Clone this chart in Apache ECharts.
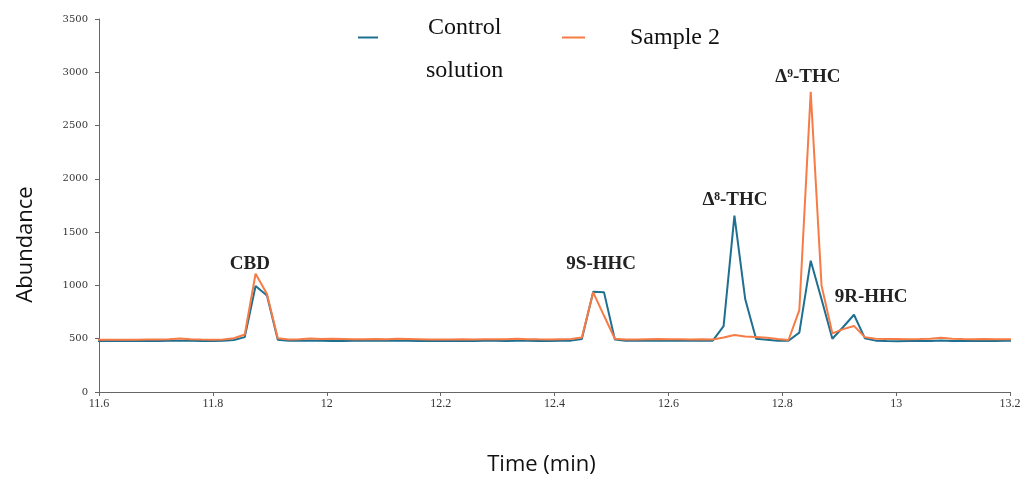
<!DOCTYPE html>
<html>
<head>
<meta charset="utf-8">
<script src="https://cdn.jsdelivr.net/npm/echarts@6/dist/echarts.min.js"></script>
<style>
  html, body { margin: 0; padding: 0; background: #fff; }
  #chart { width: 1020px; height: 477px; }
</style>
</head>
<body>
<div id="chart"></div>
<script>
// Retention times of the scans (min)
const times = [
  11.589, 11.608, 11.627, 11.646, 11.665, 11.684, 11.704, 11.723, 11.742, 11.761,
  11.780, 11.799, 11.818, 11.837, 11.856, 11.875, 11.895, 11.914, 11.933, 11.952,
  11.971, 11.990, 12.009, 12.028, 12.047, 12.066, 12.086, 12.105, 12.124, 12.143,
  12.162, 12.181, 12.200, 12.219, 12.238, 12.257, 12.277, 12.296, 12.315, 12.334,
  12.353, 12.372, 12.391, 12.410, 12.429, 12.448, 12.468, 12.487, 12.506, 12.525,
  12.544, 12.563, 12.582, 12.601, 12.620, 12.639, 12.659, 12.678, 12.697, 12.716,
  12.735, 12.754, 12.773, 12.792, 12.811, 12.830, 12.850, 12.869, 12.888, 12.907,
  12.926, 12.945, 12.964, 12.983, 13.002, 13.021, 13.041, 13.060, 13.079, 13.098,
  13.117, 13.136, 13.155, 13.174, 13.193, 13.212
];

// Abundance, control solution
const controlSolution = [
  478, 478, 478, 479, 478, 480, 479, 480, 482, 480,
  479, 478, 480, 488, 515, 995, 905, 490, 482, 481,
  484, 482, 478, 479, 480, 481, 480, 481, 482, 480,
  479, 478, 479, 480, 478, 479, 481, 480, 479, 481,
  480, 479, 478, 480, 482, 498, 940, 935, 492, 482,
  480, 481, 483, 482, 481, 480, 481, 482, 619, 1655,
  870, 500, 490, 482, 481, 557, 1232, 870, 500, 610,
  725, 505, 482, 478, 477, 479, 478, 479, 483, 479,
  478, 479, 478, 479, 480, 480
];

// Abundance, sample 2
const sample2 = [
  490, 490, 490, 491, 490, 492, 493, 495, 502, 496,
  493, 491, 492, 505, 540, 1110, 920, 505, 493, 495,
  503, 497, 500, 498, 496, 495, 497, 496, 499, 497,
  495, 493, 492, 493, 494, 493, 495, 494, 495, 500,
  496, 494, 493, 495, 497, 512, 935, 715, 500, 492,
  493, 495, 497, 495, 494, 493, 494, 493, 512, 535,
  520, 515, 508, 497, 488, 769, 2818, 1000, 550, 590,
  620, 515, 500, 498, 497, 496, 497, 499, 510, 499,
  497, 496, 497, 496, 495, 495
];

// Peak annotations
const peakNames = ['CBD', '9S-HHC', 'Δ⁸-THC', 'Δ⁹-THC', '9R-HHC'];
const peakTimes = [11.865, 12.482, 12.717, 12.845, 12.956];
const peakLevels = [1201, 1201, 1802, 2956, 891];

const seriesNames = ['Control solution', 'Sample 2'];
const colors = ['#1f6f91', '#f77b45'];

const serif = '"Liberation Serif", "DejaVu Serif", serif';
const wideSerif = '"DejaVu Serif", "Liberation Serif", serif';
const sans = '"Open Sans", "Noto Sans", sans-serif';

const chart = echarts.init(document.getElementById('chart'), null, { renderer: 'canvas' });

const toPairs = (vals) => times.map((t, i) => [t, vals[i]]);

chart.setOption({
  animation: false,
  color: colors,
  grid: { left: 99, right: 10, top: 19, bottom: 85, containLabel: false, outerBoundsMode: 'none' },
  xAxis: {
    type: 'value',
    min: 11.6,
    max: 13.2,
    interval: 0.2,
    name: 'Time (min)',
    nameLocation: 'middle',
    nameGap: 62,
    nameTextStyle: { fontFamily: sans, fontSize: 22, color: '#111', padding: [0, 26, 0, 0] },
    axisLine: { show: true, onZero: false, lineStyle: { color: '#666', width: 1 } },
    axisTick: { show: true, length: 4, lineStyle: { color: '#666' } },
    axisLabel: {
      fontFamily: serif, fontSize: 12, color: '#333', margin: 6,
      formatter: (v) => String(Math.round(v * 10) / 10)
    },
    splitLine: { show: false }
  },
  yAxis: {
    type: 'value',
    min: 0,
    max: 3500,
    interval: 500,
    name: 'Abundance',
    nameLocation: 'middle',
    nameGap: 62,
    nameRotate: 90,
    nameTextStyle: { fontFamily: sans, fontSize: 22, color: '#111', padding: [0, 78, 0, 0] },
    axisLine: { show: true, lineStyle: { color: '#666', width: 1 } },
    axisTick: { show: true, length: 4, lineStyle: { color: '#666' } },
    axisLabel: {
      fontFamily: wideSerif, fontSize: 10, color: '#333', margin: 11,
      formatter: (v) => String(v)
    },
    splitLine: { show: false }
  },
  legend: { show: false },
  graphic: [
    { type: 'line', shape: { x1: 358, y1: 37.5, x2: 378, y2: 37.5 }, style: { stroke: colors[0], lineWidth: 2 } },
    { type: 'text', left: 428, top: 16, style: { text: 'Control', font: '24px ' + serif, fill: '#111' } },
    { type: 'text', left: 426, top: 59, style: { text: 'solution', font: '24px ' + serif, fill: '#111' } },
    { type: 'line', shape: { x1: 562, y1: 37.5, x2: 585, y2: 37.5 }, style: { stroke: colors[1], lineWidth: 2 } },
    { type: 'text', left: 630, top: 26, style: { text: 'Sample 2', font: '24px ' + serif, fill: '#111' } }
  ],
  series: [
    {
      name: seriesNames[0],
      type: 'line',
      data: toPairs(controlSolution),
      showSymbol: false,
      symbol: 'none',
      lineStyle: { width: 2, color: colors[0] },
      clip: true,
      z: 2
    },
    {
      name: seriesNames[1],
      type: 'line',
      data: toPairs(sample2),
      showSymbol: false,
      symbol: 'none',
      lineStyle: { width: 2, color: colors[1] },
      clip: true,
      z: 3,
      markPoint: {
        symbol: 'circle',
        symbolSize: 0,
        silent: true,
        label: {
          show: true,
          position: 'inside',
          fontFamily: serif,
          fontWeight: 'bold',
          fontSize: 19,
          color: '#222',
          formatter: (p) => p.name
        },
        data: peakNames.map((n, i) => ({ name: n, coord: [peakTimes[i], peakLevels[i]] }))
      }
    }
  ]
});
</script>
</body>
</html>
